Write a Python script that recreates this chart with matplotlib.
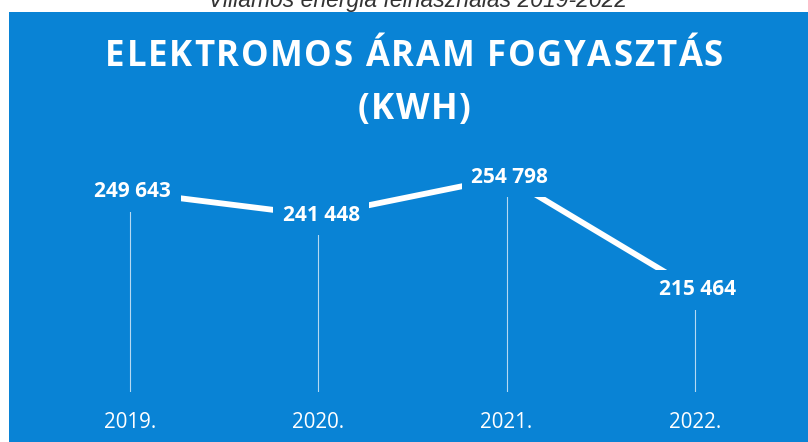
import matplotlib
matplotlib.use("Agg")
import matplotlib.pyplot as plt
from matplotlib.patches import Rectangle

years = ["2019.", "2020.", "2021.", "2022."]
values = [249643, 241448, 254798, 215464]
value_labels = ["249 643", "241 448", "254 798", "215 464"]
title_lines = ["ELEKTROMOS ÁRAM FOGYASZTÁS", "(KWH)"]
top_caption = "Villamos energia felhasználás 2019-2022"

BLUE = "#0983d5"
W, H = 808, 442
fig = plt.figure(figsize=(W / 100, H / 100), dpi=100)
fig.patch.set_facecolor("white")

# blue panel
fig.patches.append(Rectangle((9 / W, 0), 1 - 9 / W, 1 - 12 / H,
                             transform=fig.transFigure, facecolor=BLUE,
                             edgecolor="none", zorder=-5))

# cut-off caption at the very top
fig.text(0.517, 1 - 7 / H, top_caption, ha="center", va="baseline",
         fontsize=16.5, style="italic", color="#333333",
         family="Liberation Sans", zorder=1)

ymin, ymax = 180000, 270000
ax = fig.add_axes([35.85 / W, 1 - 391.7 / H, 753.2 / W, (391.7 - 133.6) / H])
ax.set_facecolor("none")
ax.set_xlim(-0.5, 3.5)
ax.set_ylim(ymin, ymax)
ax.axis("off")
ax.set_zorder(2)

xs = list(range(len(years)))
ax.vlines(xs, ymin, values, colors="white", linewidth=0.8, alpha=0.7, zorder=2)
ax.plot(xs, values, color="white", linewidth=4.2, solid_capstyle="butt", zorder=3)

for x, v, lab in zip(xs, values, value_labels):
    ax.text(x + 0.015, v, lab, ha="center", va="center", fontsize=15,
            fontweight="bold", color="white", family="Open Sans",
            bbox=dict(boxstyle="square,pad=0.45", facecolor=BLUE, edgecolor="none"),
            zorder=4)

ylab = ymin - (31 / 258.1) * (ymax - ymin)
for x, y in zip(xs, years):
    ax.text(x, ylab, y, ha="center", va="center", fontsize=14.8, color="white",
            family="Open Sans", zorder=4, clip_on=False)

# letter-spaced title
def spaced_title(line, yc, extra_px, fontsize):
    renderer = fig.canvas.get_renderer()
    chars = []
    widths = []
    for ch in line:
        t = fig.text(0, yc, ch, ha="left", va="center", fontsize=fontsize,
                     fontweight="bold", color="white", family="Open Sans", zorder=5)
        if ch == " ":
            t.set_text("\u00a0")
        chars.append(t)
    for t in chars:
        bb = t.get_window_extent(renderer)
        widths.append(bb.width)
    total = sum(widths) + extra_px * (len(chars) - 1)
    x = W * 0.5125 - total / 2
    for t, w in zip(chars, widths):
        t.set_x(x / W)
        x += w + extra_px

spaced_title(title_lines[0], 1 - 57 / H, 1.75, 25)
spaced_title(title_lines[1], 1 - 110 / H, 1.75, 25)

fig.savefig("out.png", dpi=100, facecolor="white")
